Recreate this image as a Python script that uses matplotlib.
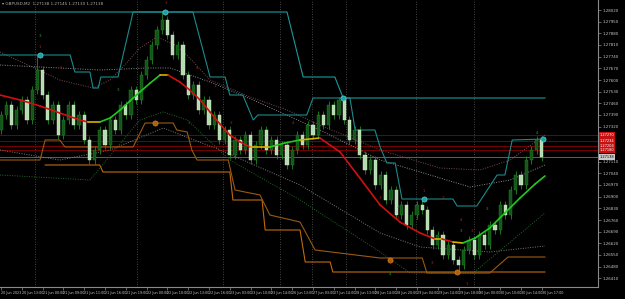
import numpy as np
import matplotlib
matplotlib.use('Agg')
import matplotlib.pyplot as plt
from matplotlib.collections import LineCollection

# renko closes
close = [1.2739, 1.2745, 1.2733, 1.2742, 1.2748, 1.2736, 1.2754, 1.2766,
         1.2751, 1.2736, 1.2745, 1.2727, 1.2736, 1.2745, 1.2733, 1.2739, 1.2724,
         1.2712, 1.2718, 1.2730, 1.2721,
         1.2736, 1.2730, 1.2745, 1.2739, 1.2754, 1.2748, 1.2763, 1.2772, 1.2781, 1.2790, 1.2796,
         1.2787, 1.2775, 1.2781, 1.2763, 1.2751, 1.2757, 1.2742, 1.2748, 1.2733,
         1.2739, 1.2724, 1.2730, 1.2715, 1.2724, 1.2718, 1.2727, 1.2712,
         1.2721, 1.2730, 1.2718, 1.2724, 1.2715, 1.2721, 1.2709, 1.2718, 1.2727, 1.2721,
         1.2733, 1.2727, 1.2739, 1.2733, 1.2745, 1.2739, 1.2748,
         1.2736, 1.2724, 1.2730, 1.2715, 1.2706, 1.2712, 1.2697, 1.2703, 1.2688,
         1.2694, 1.2679, 1.2685, 1.2673, 1.2679, 1.2685, 1.2682,
         1.2670, 1.2661, 1.2667, 1.2655, 1.2661, 1.2652, 1.2649,
         1.2658, 1.2664, 1.2655, 1.2667, 1.2661, 1.2673, 1.2670, 1.2685,
         1.2679, 1.2694, 1.2703, 1.2697, 1.2712, 1.2718, 1.2724, 1.27138]
first_open = 1.2730
wick = 0.00025
high_over = {7: 1.2775, 31: 1.2801, 65: 1.2750, 81: 1.2689}
low_over = {88: 1.2644}

# coloured moving average
ma_x = [-0.2, 3.7, 7.5, 11.3, 15.2, 16.7, 19.0, 21.0, 22.9, 24.8, 26.7, 28.7, 30.6, 32.1,
        34.4, 36.3, 38.3, 40.2, 42.1, 44.0, 46.0, 47.9, 51.7, 54.6, 57.5, 61.3, 65.2, 69.0,
        72.9, 76.7, 80.6, 83.5, 84.8, 86.9, 88.8, 91.2, 94.0, 96.9, 99.8, 102.7, 104.6]
ma_y = [1.27510, 1.27480, 1.27444, 1.27402, 1.27360, 1.27348, 1.27348, 1.27372, 1.27420,
        1.27474, 1.27528, 1.27582, 1.27630, 1.27630, 1.27588, 1.27540, 1.27480, 1.27408,
        1.27336, 1.27270, 1.27228, 1.27198, 1.27198, 1.27222, 1.27240, 1.27252, 1.27168,
        1.27012, 1.26850, 1.26748, 1.26682, 1.26646, 1.26646, 1.26628, 1.26622, 1.26652,
        1.26712, 1.26802, 1.26892, 1.26976, 1.27024]
ma_state = ['R'] * 5 + ['Y'] + ['G'] * 6 + ['Y'] + ['R'] * 8 + ['Y'] + ['G'] * 2 + ['Y'] + \
           ['R'] * 6 + ['Y', 'R', 'Y'] + ['G'] * 6

# channel lines
teal_out_x = [-0.2, 55.0, 58.1, 64.2, 65.8, 104.6]
teal_out_y = [1.28008, 1.28008, 1.27618, 1.27618, 1.27492, 1.27492]
teal_in_x = [-0.2, 13.3, 14.2, 17.1, 17.7, 18.7, 19.2, 22.5, 25.4, 36.9, 40.2, 43.1, 44.0, 46.5,
             48.5, 49.4, 58.8, 60.0, 67.1, 68.1, 71.9, 72.9, 74.2, 75.8, 77.1, 86.9, 87.7,
             91.5, 95.4, 96.9, 98.3, 104.6]
teal_in_y = [1.27750, 1.27750, 1.27648, 1.27648, 1.27552, 1.27552, 1.27618, 1.27618, 1.28008,
             1.28008, 1.27618, 1.27618, 1.27510, 1.27510, 1.27360, 1.27390, 1.27390, 1.27492,
             1.27492, 1.27300, 1.27300, 1.27198, 1.27102, 1.27102, 1.26886, 1.26886, 1.26844,
             1.26844, 1.27030, 1.27030, 1.27240, 1.27246]
orng_out_x = [8.5, 19.0, 19.6, 44.0, 44.6, 50.2, 50.8, 57.5, 58.5, 63.3, 63.8, 104.6]
orng_out_y = [1.27090, 1.27090, 1.27048, 1.27048, 1.26880, 1.26880, 1.26700, 1.26700,
              1.26508, 1.26508, 1.26448, 1.26448]
orng_in_x = [-0.2, 7.5, 8.5, 11.3, 12.3, 25.4, 27.7, 33.1, 33.8, 35.8, 36.7, 37.7, 43.7, 45.0,
             49.8, 51.7, 57.5, 60.4, 72.9, 81.0, 81.9, 94.0, 97.5, 104.6]
orng_in_y = [1.27120, 1.27120, 1.27240, 1.27240, 1.27198, 1.27198, 1.27342, 1.27342, 1.27300,
             1.27288, 1.27180, 1.27120, 1.27120, 1.26940, 1.26910, 1.26790, 1.26748, 1.26580,
             1.26532, 1.26532, 1.26442, 1.26442, 1.26538, 1.26538]

# dotted envelopes
env_a_x = [-0.2, 5.6, 11.3, 17.7, 21.0, 23.8, 26.7, 30.0, 33.5, 36.3, 40.2, 47.9, 55.0, 61.3,
           72.9, 84.4, 92.1, 97.9, 104.6]
env_a_y = [1.27768, 1.27684, 1.27600, 1.27552, 1.27600, 1.27690, 1.27792, 1.27858, 1.27810,
           1.27732, 1.27600, 1.27498, 1.27420, 1.27330, 1.27180, 1.27072, 1.27060, 1.27120,
           1.27270]
env_b_x = [-0.2, 19.0, 28.1, 32.5, 40.2, 48.5, 61.3, 72.9, 90.2, 97.9, 104.6]
env_b_y = [1.27690, 1.27660, 1.27672, 1.27672, 1.27588, 1.27480, 1.27300, 1.27120, 1.26958,
           1.27000, 1.27090]
env_c_x = [-0.2, 11.3, 21.0, 31.2, 42.1, 57.5, 72.9, 80.6, 94.0, 104.6]
env_c_y = [1.27180, 1.27120, 1.27180, 1.27312, 1.27180, 1.26970, 1.26682, 1.26598, 1.26568,
           1.26604]
env_d_x = [-0.2, 17.1, 26.7, 31.2, 35.8, 44.0, 57.5, 72.9, 78.7, 90.8, 104.6]
env_d_y = [1.27030, 1.27000, 1.27360, 1.27408, 1.27360, 1.27120, 1.26880, 1.26568, 1.26442,
           1.26442, 1.26802]

teal_dots = [(7.5, 1.27750), (31.5, 1.28008), (65.8, 1.27492), (81.3, 1.26886), (104.2, 1.27246)]
orng_dots = [(29.6, 1.27342), (74.8, 1.26520), (87.7, 1.26448)]

red_marks = [(31.7, 1.28062, '1'), (7.5, 1.27798, '1'), (11.5, 1.27672, '3'), (37.7, 1.27672, '4'),
             (41.2, 1.27564, '1'), (36.2, 1.27342, '2'), (44.2, 1.27342, '3'), (56.2, 1.27342, '4'),
             (81.3, 1.26934, '1'), (85.0, 1.26892, '2'), (72.9, 1.26892, '3'), (76.3, 1.26772, '2'),
             (88.5, 1.26760, '4'), (90.6, 1.26694, '3'), (82.9, 1.26502, '3'), (74.8, 1.26502, '1'),
             (89.6, 1.26376, '1')]
green_marks = [(7.5, 1.27864, '3'), (22.5, 1.27540, '3'), (76.3, 1.26838, '2'), (88.5, 1.26694, '3'),
               (93.5, 1.26826, '3'), (74.8, 1.26436, '4'), (103.1, 1.27282, '4')]

separators = [6.5, 26.2, 42.7, 53.7, 59.8, 66.3, 79.8, 91.0]
red_levels = [1.27270, 1.27234, 1.27204, 1.27180]
bid = 1.27138

price_ticks = [1.28020, 1.27950, 1.27880, 1.27810, 1.27740, 1.27670, 1.27600, 1.27530,
               1.27460, 1.27390, 1.27320, 1.27250, 1.27180, 1.27110, 1.27040, 1.26970,
               1.26900, 1.26830, 1.26760, 1.26690, 1.26620, 1.26550, 1.26480, 1.26410]
hidden_ticks = [1.27250, 1.27180]
time_labels = ["20 Jun 2023", "20 Jun 13:00", "21 Jun 00:00", "21 Jun 09:00", "21 Jun 11:00",
               "21 Jun 16:00", "21 Jun 19:00", "22 Jun 00:00", "22 Jun 10:00", "22 Jun 13:00",
               "22 Jun 16:00", "23 Jun 03:00", "23 Jun 10:00", "23 Jun 14:00", "26 Jun 13:00",
               "27 Jun 03:00", "27 Jun 14:00", "28 Jun 13:00", "28 Jun 14:00", "28 Jun 20:00",
               "29 Jun 04:00", "29 Jun 14:00", "29 Jun 18:00", "30 Jun 00:00", "30 Jun 10:00",
               "30 Jun 14:00", "30 Jun 17:00"]

fig = plt.figure(figsize=(6.25, 2.99), dpi=100, facecolor='black')
ax = fig.add_axes([0, 12 / 299, 598 / 625, 287 / 299])
ax.set_facecolor('black')
ax.set_xlim(-0.19, 114.8)
ax.set_ylim(1.26358, 1.28080)

for s in separators:
    ax.axvline(s, color='#5a5a5a', lw=0.6, ls=(0, (1, 2)), zorder=1)

for lv in red_levels:
    ax.axhline(lv, color='#8b0000', lw=0.6, zorder=1)
ax.axhline(bid, color='#707070', lw=0.6, zorder=1)

# envelopes
ax.plot(env_a_x, env_a_y, color='#7a4b55', lw=0.7, ls=(0, (1, 1.5)), zorder=2)
ax.plot(env_b_x, env_b_y, color='#8a8a8a', lw=0.7, ls=(0, (1, 1.5)), zorder=2)
ax.plot(env_c_x, env_c_y, color='#7a7a7a', lw=0.7, ls=(0, (1, 1.5)), zorder=2)
ax.plot(env_d_x, env_d_y, color='#1f6a2a', lw=0.7, ls=(0, (1, 1.5)), zorder=2)

# channels
ax.plot(teal_out_x, teal_out_y, color='#1a9a9a', lw=0.8, zorder=3)
ax.plot(teal_in_x, teal_in_y, color='#1a8c8c', lw=0.8, zorder=3)
ax.plot(orng_out_x, orng_out_y, color='#c06a10', lw=0.8, zorder=3)
ax.plot(orng_in_x, orng_in_y, color='#9a5a12', lw=0.8, zorder=3)

# candles
opens = [first_open] + close[:-1]
for i, (o, c) in enumerate(zip(opens, close)):
    hi = high_over.get(i, max(o, c) + wick)
    lo = low_over.get(i, min(o, c) - wick)
    ax.vlines(i, lo, hi, color='#1f8a1f', lw=0.6, zorder=4)
    if c > o:
        ax.bar(i, c - o, bottom=o, width=0.6, color='#14561a', edgecolor='#1f8a1f', lw=0.3, zorder=5)
    else:
        ax.bar(i, o - c, bottom=c, width=0.6, color='#b4dcae', edgecolor='#d6f0d0', lw=0.3, zorder=5)

# moving average
cmap = {'R': '#d01010', 'G': '#22c822', 'Y': '#d8b000'}
segs = [[(ma_x[k], ma_y[k]), (ma_x[k + 1], ma_y[k + 1])] for k in range(len(ma_x) - 1)]
lc = LineCollection(segs, colors=[cmap[s] for s in ma_state], linewidths=1.2, zorder=6,
                    capstyle='round')
ax.add_collection(lc)

tx, ty = zip(*teal_dots)
ax.scatter(tx, ty, s=14, color='#1aa0a8', edgecolor='#6fe0e0', lw=0.4, zorder=7)
ox, oy = zip(*orng_dots)
ax.scatter(ox, oy, s=14, color='#b0600c', edgecolor='#e08a30', lw=0.4, zorder=7)

for x, y, t in red_marks:
    ax.text(x, y, t, color='#c01818', fontsize=3, ha='center', va='center', zorder=8)
for x, y, t in green_marks:
    ax.text(x, y, t, color='#2a9a2a', fontsize=3, ha='center', va='center', zorder=8)

# axes
for side in ['left', 'top']:
    ax.spines[side].set_visible(False)
for side in ['right', 'bottom']:
    ax.spines[side].set_color('#8a8a8a')
    ax.spines[side].set_linewidth(0.8)

ax.yaxis.tick_right()
ax.set_yticks(price_ticks)
ax.set_yticklabels(['' if p in hidden_ticks else '%.5f' % p for p in price_ticks])
ax.set_xticks(range(0, 4 * len(time_labels), 4))
ax.set_xticklabels(time_labels, ha='left')
ax.tick_params(axis='y', colors='#8a8a8a', labelcolor='#c8c8c8', labelsize=2.9,
               length=2, width=0.5, pad=1)
ax.tick_params(axis='x', colors='#8a8a8a', labelcolor='#c8c8c8', labelsize=2.4,
               length=2, width=0.5, pad=1)

for lv in red_levels:
    ax.text(1.003, lv, '%.5f' % lv, transform=ax.get_yaxis_transform(), fontsize=2.6,
            color='white', va='center', ha='left', zorder=10, clip_on=False,
            bbox=dict(boxstyle='square,pad=0.15', fc='#c81010', ec='none'))
ax.text(1.003, bid, '%.5f' % bid, transform=ax.get_yaxis_transform(), fontsize=2.6,
        color='black', va='center', ha='left', zorder=10, clip_on=False,
        bbox=dict(boxstyle='square,pad=0.15', fc='#c8c8c8', ec='none'))

fig.text(0.004, 0.992, '\u25be GBPUSD,M2  1.27138 1.27145 1.27130 1.27138', color='#b0b0b0',
         fontsize=3, ha='left', va='top')

fig.savefig('out.png', dpi=100, facecolor='black')
